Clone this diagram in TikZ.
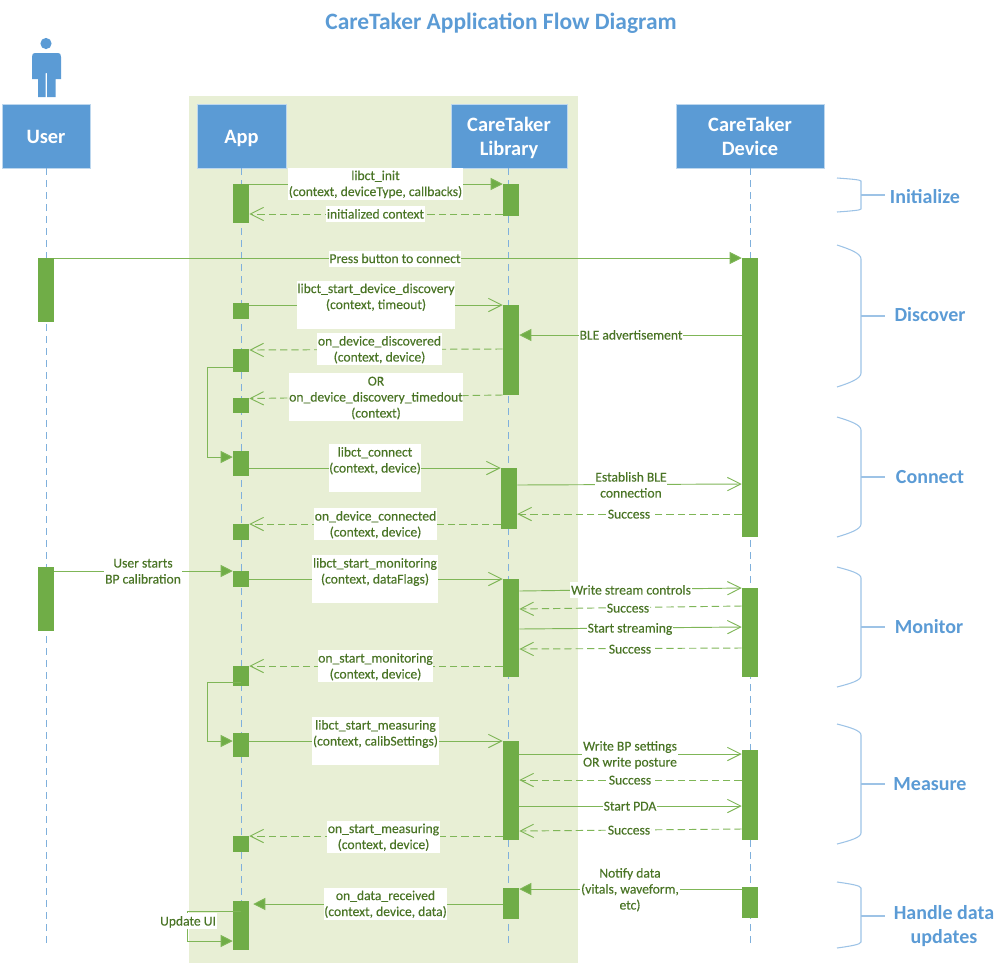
\documentclass[tikz,border=0pt]{standalone}
\usepackage{fontspec}
\setmainfont{Carlito}
\newfontfamily\labelfont{Carlito}[FakeBold=0.25]
\usetikzlibrary{arrows.meta}

\definecolor{headblue}{HTML}{5B9BD5}
\definecolor{headrim}{HTML}{BDD7EE}
\definecolor{braceblue}{HTML}{9DC3E6}
\definecolor{lifeblue}{HTML}{7FB0DC}
\definecolor{barGreen}{HTML}{70AD47}
\definecolor{lineGreen}{HTML}{7FB657}
\definecolor{textGreen}{HTML}{4A7526}
\definecolor{panelGreen}{HTML}{E8EFD5}

\tikzstyle{header}=[fill=headblue,draw=headrim,line width=0.6pt,minimum height=48pt,
    inner sep=0pt,align=center,text=white,font=\fontsize{15.3}{18}\selectfont\bfseries]
\tikzstyle{lifeline}=[draw=lifeblue,line width=0.75pt,dash pattern=on 5.5pt off 3.5pt]
\tikzstyle{activation}=[fill=barGreen,minimum width=12pt,inner sep=0pt]
\tikzstyle{msg}=[draw=lineGreen,line width=0.7pt]
\tikzstyle{call}=[->,>={Straight Barb[length=10pt,width=10pt]}]
\tikzstyle{ping}=[->,>={Triangle[length=9pt,width=9pt,fill=barGreen]}]
\tikzstyle{reply}=[call,dash pattern=on 5.5pt off 3pt]
\tikzstyle{msg label}=[fill=white,inner xsep=0.5pt,inner ysep=0pt,align=center,text=textGreen,
    font=\labelfont\fontsize{10.2}{12}\selectfont]
\tikzstyle{brace}=[draw=braceblue,line width=0.8pt]
\tikzstyle{phase}=[inner sep=0pt,align=center,text=headblue,font=\fontsize{15}{18}\selectfont\bfseries]

\newcommand{\labelstrut}{\rule[-2.6pt]{0pt}{12pt}}
\newcommand{\headstrut}{\rule[-3.4pt]{0pt}{18pt}}
\newcommand{\headerbox}[5]{
    \node[header,minimum width=#3pt] (#1) at (#2,136) {\headstrut #4\headstrut};
    \coordinate (#1End) at (#5,945);
    \draw[lifeline] (#5,168) -- (#1End);
}
\newcommand{\activate}[4]{
    \node[activation,minimum height={(#4-#3)*0.75pt}] (#1) at (#2,{(#3+#4)/2}) {};
}
\newcommand{\msgline}[5][]{\draw[msg,#1] (#2 |- 0,#3) -- (#4 |- 0,#5);}
\newcommand{\msglabel}[3]{\node[msg label] (#1) at (#2) {\labelstrut #3\labelstrut};}
\newcommand{\phasebrace}[5]{
    \coordinate (#1) at (861,#5);
    \coordinate (#1End) at (885,#5);
    \draw[brace] (837,#2) .. controls (850,{#2+0.3*#4}) and (861,{#2+0.6*#4}) .. (861,{#2+#4})
        -- (861,{#3-#4}) .. controls (861,{#3-0.6*#4}) and (850,{#3-0.3*#4}) .. (837,#3);
    \draw[brace] (#1) -- (#1End);
}

\begin{document}
\begin{tikzpicture}[x=0.75pt,y=-0.75pt]
    \useasboundingbox (0,0) rectangle (1006,965);
    \fill[panelGreen] (189,96) rectangle (578,963);

    \node[text=headblue,inner sep=0pt,font=\fontsize{17.6}{20}\selectfont\bfseries] (title) at (501,23) {CareTaker Application Flow Diagram};

    \fill[headblue] (46,43.5) circle (5.6);
    \fill[headblue] (32,79) -- (32,57) .. controls (32,54) and (33,53) .. (35,53) -- (58,53)
        .. controls (60,53) and (61,54) .. (61,57) -- (61,79) -- (55.5,79) -- (55.5,97) -- (47,97)
        -- (47,73) -- (45.6,73) -- (45.6,97) -- (38,97) -- (38,79) -- cycle;

    \headerbox{user}{46}{66}{User}{46}
    \headerbox{app}{241.5}{66.75}{App}{241}
    \headerbox{library}{509}{87}{CareTaker\\Library}{508}
    \headerbox{device}{750}{111}{CareTaker\\Device}{750}

    \activate{userA}{46}{258}{322}
    \activate{userB}{46}{567}{631}

    \activate{appA}{241}{184}{223}
    \activate{appB}{241}{303}{319}
    \activate{appC}{241}{349}{372}
    \activate{appD}{241}{398}{413}
    \activate{appE}{241}{451}{476}
    \activate{appF}{241}{524}{540}
    \activate{appG}{241}{571}{587}
    \activate{appH}{241}{666}{686}
    \activate{appI}{241}{733}{757}
    \activate{appJ}{241}{836}{852}
    \activate{appK}{241}{901}{950}

    \activate{libA}{511}{184}{216}
    \activate{libB}{511}{305}{395}
    \activate{libC}{509}{468}{529}
    \activate{libD}{511}{579}{677}
    \activate{libE}{511}{741}{840}
    \activate{libF}{511}{888}{919}

    \activate{devA}{750}{258}{537}
    \activate{devB}{750}{588}{677}
    \activate{devC}{750}{750}{840}
    \activate{devD}{750}{887}{918}

    \msgline[ping]{appA.east}{184}{libA.west}{184}
    \msgline[reply]{libA.west}{214}{appA.east}{214}
    \msgline[ping]{userA.east}{258}{devA.west}{258}
    \msgline[call]{appB.east}{305}{libB.west}{305}
    \msgline[ping]{devA.west}{335}{libB.east}{335}
    \msgline[reply]{libB.west}{349}{appC.east}{350}
    \msgline[reply]{libB.west}{395}{appD.east}{398.5}
    \msgline[call]{appE.east}{468}{libC.west}{468}
    \msgline[call]{libC.east}{485}{devA.west}{484}
    \msgline[reply]{devA.west}{514}{libC.east}{514}
    \msgline[reply]{libC.west}{524}{appF.east}{524}
    \msgline[ping]{userB.east}{571}{appG.west}{571}
    \msgline[call]{appG.east}{579}{libD.west}{579}
    \msgline[call]{libD.east}{591}{devB.west}{588}
    \msgline[reply]{devB.west}{606}{libD.east}{609}
    \msgline[call]{libD.east}{629}{devB.west}{627}
    \msgline[reply]{devB.west}{648}{libD.east}{649}
    \msgline[reply]{libD.west}{666}{appH.east}{666}
    \msgline[call]{appI.east}{741}{libE.west}{741}
    \msgline[call]{libE.east}{754}{devC.west}{754}
    \msgline[reply]{devC.west}{780}{libE.east}{780}
    \msgline[call]{libE.east}{806}{devC.west}{806}
    \msgline[reply]{devC.west}{829}{libE.east}{831}
    \msgline[reply]{libE.west}{836}{appJ.east}{836}
    \msgline[ping]{devD.west}{889}{libF.east}{889}
    \draw[msg,ping,shorten >=3pt] (libF.west |- 0,904) -- (appK.east |- 0,904);

    \draw[msg,ping] (appC.west |- 0,367) -| (207,457) -- (appE.west |- 0,457);
    \draw[msg,ping] (appH.center |- 0,682) -| (207,741) -- (appI.west |- 0,741);
    \draw[msg,ping] (appK.center |- 0,911) -| (187,941) -- (appK.west |- 0,941);

    \msglabel{lblInit}{375.5,183.5}{libct\_init\\(context, deviceType, callbacks)}
    \msglabel{lblInitialized}{375.5,214}{initialized context}
    \msglabel{lblPress}{395,258.5}{Press button to connect}
    \msglabel{lblDiscovery}{376,304.5}{libct\_start\_device\_discovery\\(context, timeout)\\~}
    \msglabel{lblAdvert}{631,335}{BLE advertisement}
    \msglabel{lblDiscovered}{379.5,349}{on\_device\_discovered\\(context, device)}
    \msglabel{lblTimedout}{376,397}{OR\\on\_device\_discovery\_timedout\\(context)}
    \msglabel{lblConnect}{375,468}{libct\_connect\\(context, device)\\~}
    \msglabel{lblEstablish}{631,485}{Establish BLE\\connection}
    \msglabel{lblConnSuccess}{629,514}{Success}
    \msglabel{lblConnected}{375.5,524}{on\_device\_connected\\(context, device)}
    \msglabel{lblCalib}{143,571}{User starts\\BP calibration}
    \msglabel{lblMonitoring}{375,579}{libct\_start\_monitoring\\(context, dataFlags)\\~}
    \msglabel{lblControls}{631,590}{Write stream controls}
    \msglabel{lblCtrlSuccess}{628,608}{Success}
    \msglabel{lblStreaming}{630,628}{Start streaming}
    \msglabel{lblStrSuccess}{630,649}{Success}
    \msglabel{lblOnMonitoring}{375.5,666}{on\_start\_monitoring\\(context, device)}
    \msglabel{lblMeasuring}{375.5,741}{libct\_start\_measuring\\(context, calibSettings)\\~}
    \msglabel{lblSettings}{630,754}{Write BP settings\\OR write posture}
    \msglabel{lblSetSuccess}{630,780}{Success}
    \msglabel{lblPda}{630,806}{Start PDA}
    \msglabel{lblPdaSuccess}{629,830}{Success}
    \msglabel{lblOnMeasuring}{383.5,836.5}{on\_start\_measuring\\(context, device)}
    \msglabel{lblNotify}{630,889}{Notify data\\(vitals, waveform,\\etc)}
    \msglabel{lblReceived}{385.5,903.5}{on\_data\_received\\(context, device, data)}
    \msglabel{lblUpdate}{188,921}{Update UI}

    \phasebrace{initBrace}{178}{212}{3}{195}
    \phasebrace{discBrace}{245}{387}{14}{316}
    \phasebrace{connBrace}{417}{537}{13}{477}
    \phasebrace{monBrace}{567}{687}{11}{627}
    \phasebrace{measBrace}{724}{844}{11}{784}
    \phasebrace{handBrace}{882}{948}{6}{916}

    \node[phase] (initLabel) at (925,197) {Initialize};
    \node[phase] (discLabel) at (930,315) {Discover};
    \node[phase] (connLabel) at (930,477) {Connect};
    \node[phase] (monLabel) at (929,627) {Monitor};
    \node[phase] (measLabel) at (930,784) {Measure};
    \node[phase] (handLabel) at (944,926) {Handle data\\updates};
\end{tikzpicture}
\end{document}
